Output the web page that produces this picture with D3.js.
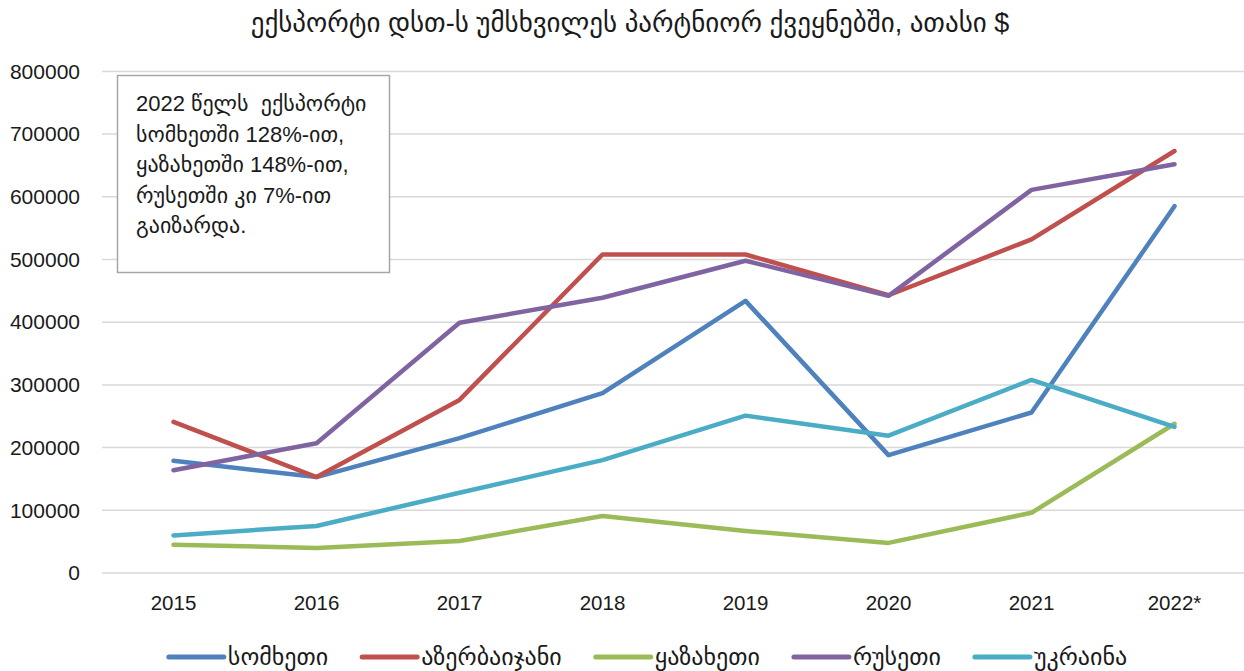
<!DOCTYPE html>
<html><head><meta charset="utf-8">
<script src="https://cdn.jsdelivr.net/npm/d3@7"></script>
<style>
body{margin:0;background:#fff;}
text{font-family:"Liberation Sans","DejaVu Sans",sans-serif;fill:#1a1a1a;}
</style></head>
<body><svg id="c" width="1244" height="671"></svg>
<script>
const title = "ექსპორტი დსთ-ს უმსხვილეს პარტნიორ ქვეყნებში, ათასი $";
const categories = ["2015","2016","2017","2018","2019","2020","2021","2022*"];
const seriesNames = ["სომხეთი","აზერბაიჯანი","ყაზახეთი","რუსეთი","უკრაინა"];
const seriesColors = ["#4F81BD","#C0504D","#9BBB59","#8064A2","#4BACC6"];
const armenia    = [179000,153000,215000,287000,434000,188000,256000,585000];
const azerbaijan = [241000,153000,276000,508000,508000,443000,532000,673000];
const kazakhstan = [45000,40000,51000,91000,67000,48000,96000,238000];
const russia     = [164000,207000,399000,439000,498000,442000,611000,652000];
const ukraine    = [60000,75000,128000,180000,251000,219000,308000,233000];
const yTicks = [0,100000,200000,300000,400000,500000,600000,700000,800000];
const noteLines = ["2022 წელს  ექსპორტი","სომხეთში 128%-ით,","ყაზახეთში 148%-ით,","რუსეთში კი 7%-ით","გაიზარდა."];

(function(){
const seriesValues = [armenia, azerbaijan, kazakhstan, russia, ukraine];
const svg = d3.select("#c");
const mLeft = 102, mRight = 1246, mTop = 71.4, mBottom = 573;
const ff = '"Liberation Sans","DejaVu Sans",sans-serif';

const x = d3.scaleBand().domain(categories).range([mLeft, mRight]);
const y = d3.scaleLinear().domain([0, 800000]).range([mBottom, mTop]);

svg.append("text").attr("x", 630).attr("y", 32).attr("text-anchor","middle")
  .style("font-size","27px").text(title);

svg.append("g").selectAll("line").data(yTicks).join("line")
  .attr("x1", mLeft).attr("x2", mRight)
  .attr("y1", d => y(d)).attr("y2", d => y(d))
  .attr("stroke","#d9d9d9").attr("stroke-width",1.5);

const yAxis = d3.axisLeft(y).tickValues(yTicks).tickFormat(d3.format("d")).tickSize(0).tickPadding(22);
const yg = svg.append("g").attr("transform",`translate(${mLeft},0)`).call(yAxis);
yg.select(".domain").remove();
yg.selectAll("text").style("font-size","21px").attr("fill","#333").style("font-family",ff);

const xAxis = d3.axisBottom(x).tickSize(0).tickPadding(22);
const xg = svg.append("g").attr("transform",`translate(0,${mBottom})`).call(xAxis);
xg.select(".domain").remove();
xg.selectAll("text").style("font-size","20.5px").attr("fill","#333").style("font-family",ff);

const line = d3.line().x((d,i) => x(categories[i]) + x.bandwidth()/2).y(d => y(d));
svg.append("g").selectAll("path").data(seriesValues).join("path")
  .attr("d", d => line(d)).attr("fill","none")
  .attr("stroke",(d,i) => seriesColors[i]).attr("stroke-width",4.5)
  .attr("stroke-linejoin","round").attr("stroke-linecap","round");

const note = svg.append("g");
note.append("rect").attr("x",117.5).attr("y",75.5).attr("width",272).attr("height",197)
  .attr("fill","#fff").attr("stroke","#a6a6a6").attr("stroke-width",1.5);
note.selectAll("text").data(noteLines).join("text")
  .attr("x",136).attr("y",(d,i) => 111 + i*30.5)
  .style("font-size","22px").style("white-space","pre").text(d => d);

const lg = svg.append("g");
const items = lg.selectAll("g").data(seriesNames).join("g");
items.append("line").attr("x1",0).attr("x2",55).attr("y1",0).attr("y2",0)
  .attr("stroke",(d,i) => seriesColors[i]).attr("stroke-width",5).attr("stroke-linecap","round");
items.append("text").attr("x",59).attr("y",8).style("font-size","24px").text(d => d);
let widths = [];
items.each(function(){ widths.push(this.getBBox().width); });
const gap = 34;
const total = d3.sum(widths) + gap*(widths.length-1);
let cx = 648 - total/2;
items.attr("transform",(d,i) => { const t = `translate(${cx},657)`; cx += widths[i] + gap; return t; });
})();
</script></body></html>
